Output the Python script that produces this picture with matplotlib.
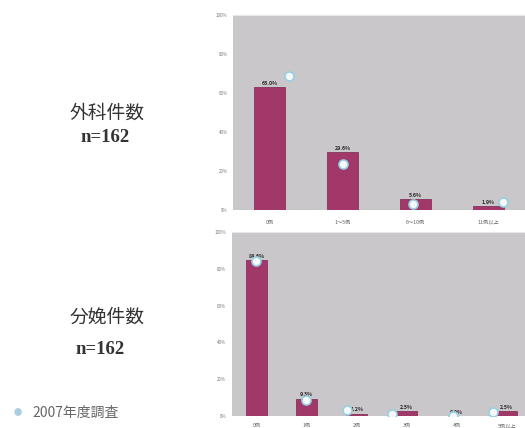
import matplotlib
matplotlib.use("Agg")
import matplotlib.pyplot as plt
import numpy as np

plt.rcParams['font.family'] = ['Noto Sans CJK JP', 'DejaVu Sans']

# 外科件数
surg_cats = ["0例", "1～5例", "6～10例", "11例以上"]
surg_vals = [63.0, 29.6, 5.6, 1.9]
surg_2007 = [68.5, 23.5, 3.1, 4.3]

# 分娩件数
deliv_cats = ["0例", "1例", "2例", "3例", "4例", "5例以上"]
deliv_vals = [84.6, 9.3, 1.2, 2.5, 0.0, 2.5]
deliv_2007 = [84.0, 8.5, 3.3, 1.1, 0.0, 2.3]

yticks = [0, 20, 40, 60, 80, 100]

BAR = "#a2386a"
BAR_EDGE = "#7e2450"
BG = "#cac7cb"
DOT_FACE = "#f6f8fa"
DOT_EDGE = "#96d0e2"

fig = plt.figure(figsize=(5.25, 4.28), dpi=100)
fig.patch.set_facecolor("white")


def panel(rect, cats, vals, prev, dot_shift, label_pad):
    ax = fig.add_axes(rect)
    ax.set_facecolor(BG)
    x = np.arange(len(cats))
    ax.bar(x, vals, width=0.42, color=BAR, edgecolor=BAR_EDGE, linewidth=0.5, zorder=2)
    for xi, v in zip(x, vals):
        ax.text(xi, v + 0.8, f"{v:.1f}%", ha="center", va="bottom",
                fontsize=3.8, color="#2a2a2a", weight="bold", zorder=4)
    ax.scatter(x + np.array(dot_shift), prev, s=42, facecolor=DOT_FACE,
               edgecolor=DOT_EDGE, linewidth=1.2, zorder=5)
    ax.set_xlim(-0.5, len(cats) - 0.5)
    ax.set_ylim(0, 100)
    ax.set_yticks(yticks)
    ax.set_yticklabels([f"{t}%" for t in yticks], fontsize=3.2, color="#777777")
    ax.set_xticks(x)
    ax.set_xticklabels(cats, fontsize=3.8, color="#666666")
    ax.tick_params(axis="both", length=0)
    ax.tick_params(axis="y", pad=4)
    ax.tick_params(axis="x", pad=label_pad)
    for s in ["left", "right", "bottom"]:
        ax.spines[s].set_visible(False)
    ax.spines["top"].set_color("#e8e6ea")
    ax.spines["top"].set_linewidth(0.8)
    return ax


panel([233 / 525, (428 - 210) / 428, 292 / 525, 195 / 428],
      surg_cats, surg_vals, surg_2007, [0.27, 0.0, -0.03, 0.2], 7)
panel([231.7 / 525, (428 - 416) / 428, 300 / 525, 184 / 428],
      deliv_cats, deliv_vals, deliv_2007, [-0.01, -0.02, -0.2, -0.3, -0.07, -0.28], 5)

# 左側の見出し
fig.text(107 / 525, 1 - 113 / 428, "外科件数", ha="center", va="center",
         fontsize=13.5, color="#333333")
fig.text(105 / 525, 1 - 137 / 428, "n=162", ha="center", va="center",
         fontsize=13.5, color="#333333", family="Liberation Serif", weight="bold")
fig.text(107 / 525, 1 - 317 / 428, "分娩件数", ha="center", va="center",
         fontsize=13.5, color="#333333")
fig.text(100 / 525, 1 - 350 / 428, "n=162", ha="center", va="center",
         fontsize=13.5, color="#333333", family="Liberation Serif", weight="bold")

# 凡例
fig.text(18 / 525, 1 - 413 / 428, "●", ha="center", va="center",
         fontsize=6, color="#a9cfe0")
fig.text(32 / 525, 1 - 413 / 428, "2007年度調査", ha="left", va="center",
         fontsize=10, color="#666666")

fig.savefig("out.png", dpi=100, facecolor="white")
